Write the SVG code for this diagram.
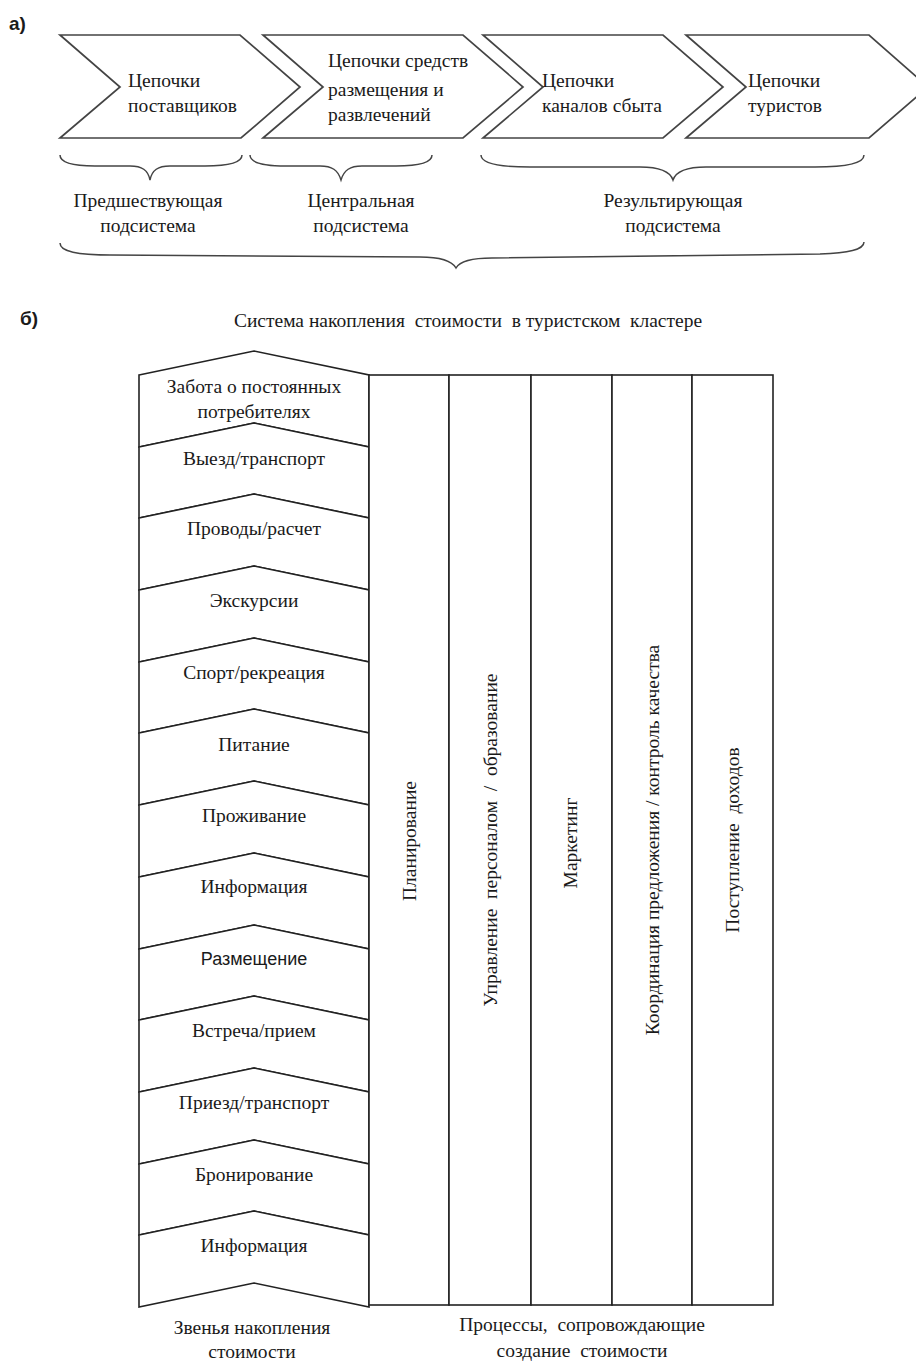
<svg xmlns="http://www.w3.org/2000/svg" width="916" height="1361" viewBox="0 0 916 1361">
<style>
.t{font-family:"Liberation Serif","Times New Roman",serif;font-size:19.5px;fill:#1a1a1a;white-space:pre}
.m{text-anchor:middle}
.s{font-family:"Liberation Sans",Arial,sans-serif;font-size:18px;fill:#1a1a1a}
.lbl{font-family:"Liberation Sans",Arial,sans-serif;font-size:19px;font-weight:bold;fill:#1a1a1a}
.ch{fill:#fff;stroke:#444;stroke-width:1.7;stroke-linejoin:miter}
.br{fill:none;stroke:#444;stroke-width:1.5}
.seg{fill:#fff;stroke:#222;stroke-width:1.6;stroke-linejoin:miter}
.col{fill:#fff;stroke:#222;stroke-width:1.6}
</style>
<rect width="916" height="1361" fill="#fff"/>

<!-- Part a -->
<text class="lbl" x="9" y="30">а)</text>
<g id="chain-suppliers">
<polygon class="ch" points="60,35 240,35 300,87 241,138 60,138 120,87"/>
<text class="t" x="128" y="87">Цепочки</text>
<text class="t" x="128" y="112">поставщиков</text>
</g>
<g id="chain-accommodation">
<polygon class="ch" points="263,35 463,35 523,87 463,138 263,138 323,87"/>
<text class="t" x="328" y="67">Цепочки средств</text>
<text class="t" x="328" y="96">размещения и</text>
<text class="t" x="328" y="121">развлечений</text>
</g>
<g id="chain-sales">
<polygon class="ch" points="483,35 663,35 723,87 663,138 483,138 543,87"/>
<text class="t" x="542" y="87">Цепочки</text>
<text class="t" x="542" y="112">каналов сбыта</text>
</g>
<g id="chain-tourists">
<polygon class="ch" points="686,35 869,35 928,87 869,138 686,138 746,87"/>
<text class="t" x="748" y="87">Цепочки</text>
<text class="t" x="748" y="112">туристов</text>
</g>
<g id="braces">
<path class="br" d="M60,155 C60,163 75,166 95,166 L130,166 C142,166 148,170 150,180 C152,170 158,166 170,166 L205,166 C226,166 242,163 242,155"/>
<path class="br" d="M250,155 C250,163 266,166 286,166 L320,166 C332,166 338,170 341,180 C344,170 350,166 362,166 L396,166 C416,166 432,163 432,155"/>
<path class="br" d="M481,155 C481,164 500,167 530,167 L640,167 C660,167 670,171 673,180 C676,171 686,167 706,167 L815,167 C845,167 864,164 864,155"/>
<path class="br" d="M60,243 C60,252 78,255 110,255 L420,257 C440,257 452,261 456,268 C460,261 472,258 492,258 L820,254 C848,253 864,250 864,242"/>
</g>
<g id="sub-prev"><text class="t m" x="148" y="207">Предшествующая</text><text class="t m" x="148" y="232">подсистема</text></g>
<g id="sub-central"><text class="t m" x="361" y="207">Центральная</text><text class="t m" x="361" y="232">подсистема</text></g>
<g id="sub-result"><text class="t m" x="673" y="207">Результирующая</text><text class="t m" x="673" y="232">подсистема</text></g>

<!-- Part b -->
<text class="lbl" x="20" y="325">б)</text>
<text class="t m" x="468" y="327">Система накопления  стоимости  в туристском  кластере</text>

<g id="link-1"><polygon class="seg" points="139,375 254,351 369,375 369,447 254,423 139,447"/><text class="t m" x="254" y="393">Забота о постоянных</text><text class="t m" x="254" y="418">потребителях</text></g>
<g id="link-2"><polygon class="seg" points="139,447 254,423 369,447 369,518 254,494 139,518"/><text class="t m" x="254" y="465">Выезд/транспорт</text></g>
<g id="link-3"><polygon class="seg" points="139,518 254,494 369,518 369,590 254,566 139,590"/><text class="t m" x="254" y="535">Проводы/расчет</text></g>
<g id="link-4"><polygon class="seg" points="139,590 254,566 369,590 369,662 254,638 139,662"/><text class="t m" x="254" y="607">Экскурсии</text></g>
<g id="link-5"><polygon class="seg" points="139,662 254,638 369,662 369,733 254,709 139,733"/><text class="t m" x="254" y="679">Спорт/рекреация</text></g>
<g id="link-6"><polygon class="seg" points="139,733 254,709 369,733 369,805 254,781 139,805"/><text class="t m" x="254" y="751">Питание</text></g>
<g id="link-7"><polygon class="seg" points="139,805 254,781 369,805 369,877 254,853 139,877"/><text class="t m" x="254" y="822">Проживание</text></g>
<g id="link-8"><polygon class="seg" points="139,877 254,853 369,877 369,949 254,925 139,949"/><text class="t m" x="254" y="893">Информация</text></g>
<g id="link-9"><polygon class="seg" points="139,949 254,925 369,949 369,1020 254,996 139,1020"/><text class="s m" x="254" y="965">Размещение</text></g>
<g id="link-10"><polygon class="seg" points="139,1020 254,996 369,1020 369,1092 254,1068 139,1092"/><text class="t m" x="254" y="1037">Встреча/прием</text></g>
<g id="link-11"><polygon class="seg" points="139,1092 254,1068 369,1092 369,1164 254,1140 139,1164"/><text class="t m" x="254" y="1109">Приезд/транспорт</text></g>
<g id="link-12"><polygon class="seg" points="139,1164 254,1140 369,1164 369,1235 254,1211 139,1235"/><text class="t m" x="254" y="1181">Бронирование</text></g>
<g id="link-13"><polygon class="seg" points="139,1235 254,1211 369,1235 369,1307 254,1283 139,1307"/><text class="t m" x="254" y="1252">Информация</text></g>

<g id="proc-planning"><rect class="col" x="369" y="375" width="80" height="930"/><text class="t m" transform="translate(416,841) rotate(-90)">Планирование</text></g>
<g id="proc-personnel"><rect class="col" x="449" y="375" width="82" height="930"/><text class="t m" transform="translate(497,840) rotate(-90)">Управление  персоналом  /  образование</text></g>
<g id="proc-marketing"><rect class="col" x="531" y="375" width="81" height="930"/><text class="t m" transform="translate(577,843) rotate(-90)">Маркетинг</text></g>
<g id="proc-coordination"><rect class="col" x="612" y="375" width="80" height="930"/><text class="t m" transform="translate(659,840) rotate(-90)">Координация предложения / контроль качества</text></g>
<g id="proc-revenue"><rect class="col" x="692" y="375" width="81" height="930"/><text class="t m" transform="translate(739,840) rotate(-90)">Поступление  доходов</text></g>

<g id="caption-links"><text class="t m" x="252" y="1334">Звенья накопления</text><text class="t m" x="252" y="1358">стоимости</text></g>
<g id="caption-processes"><text class="t m" x="582" y="1331">Процессы,  сопровождающие</text><text class="t m" x="582" y="1357">создание  стоимости</text></g>
</svg>
